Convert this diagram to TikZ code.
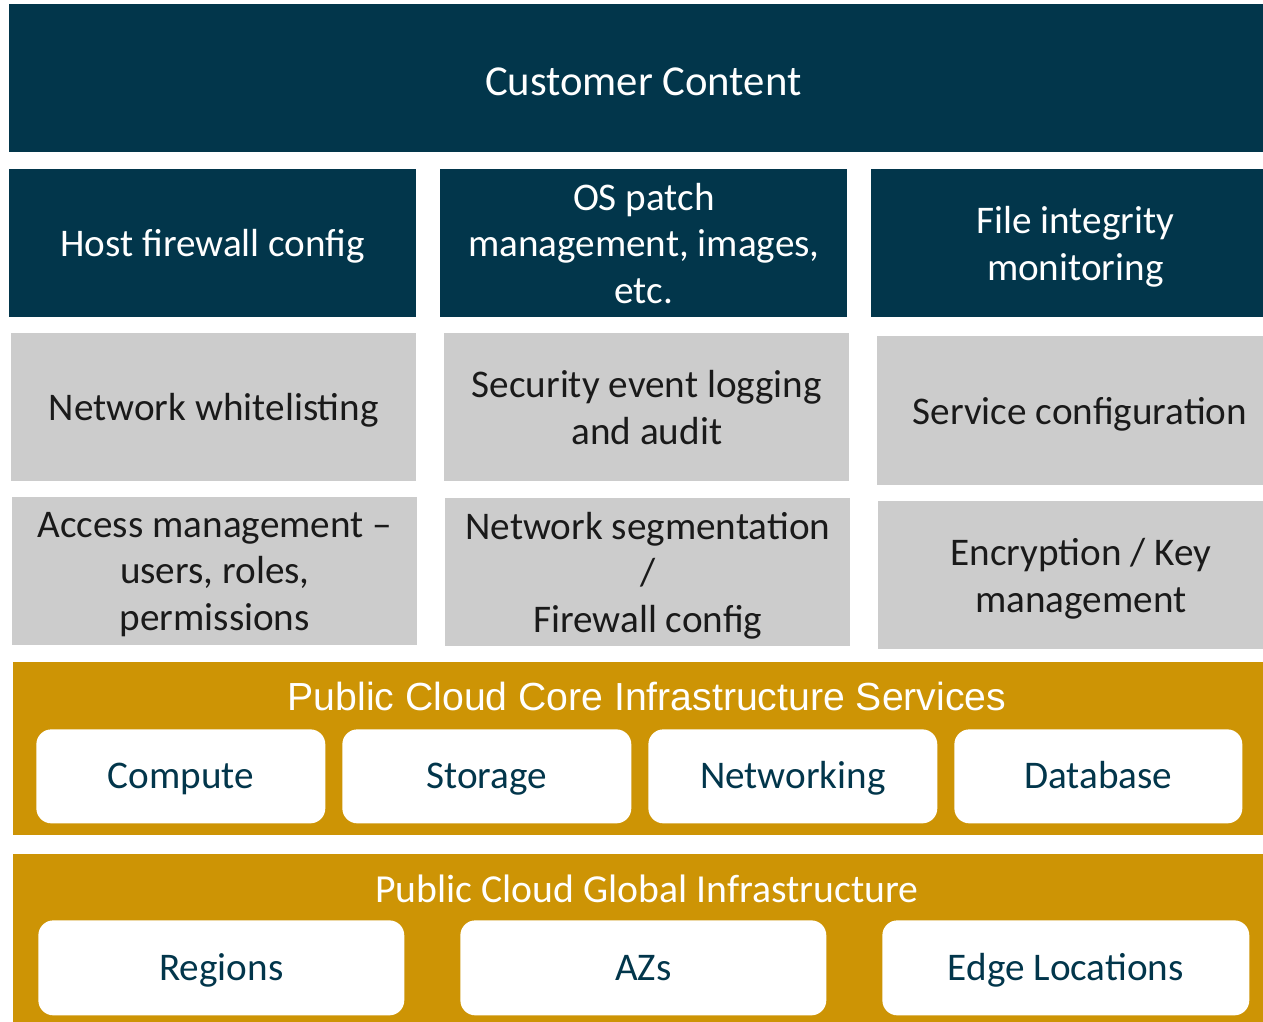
\documentclass[tikz,border=0pt]{standalone}
\usepackage{fontspec}
\setmainfont{Carlito}
\newfontfamily\arialfont{Liberation Sans}
\usetikzlibrary{positioning}

\definecolor{navy}{HTML}{02364B}
\definecolor{lightgray}{HTML}{CCCCCC}
\definecolor{gold}{HTML}{CD9405}
\definecolor{darktext}{HTML}{1A1A1A}

\begin{document}
\begin{tikzpicture}[
    x=0.02cm, y=-0.02cm,
    base/.style={anchor=north west, inner sep=0pt, align=center, text depth=0pt, font=\fontsize{22.3}{26.6}\selectfont},
    navybox/.style={base, fill=navy, text=white},
    graybox/.style={base, fill=lightgray, text=darktext},
    goldband/.style={anchor=north west, inner sep=0pt, fill=gold, minimum width=25cm, minimum height=#1},
    service/.style={base, fill=white, text=navy, rounded corners=0.3cm, minimum height=1.88cm, text height=20pt, text depth=5.8pt},
    bandtitle/.style={text=white, inner sep=0pt}
]
\useasboundingbox (0,0) rectangle (1263,1021);

% --- Customer responsibility ---
\node[navybox, minimum width=25.36cm, minimum height=2.96cm, text height=19pt, font=\fontsize{24.3}{29}\selectfont] (content) at (9,4) {Customer Content};

\node[navybox, minimum width=8.14cm, minimum height=2.96cm] (hostfw) at (9,169) {Host firewall config};
\node[navybox, minimum width=8.14cm, minimum height=2.96cm] (ospatch) at (440,169) {OS patch\\management, images,\\etc.};
\node[navybox, minimum width=8.16cm, minimum height=2.96cm] (fim) at (871,169) {File integrity\\monitoring};

\node[graybox, minimum width=8.10cm, minimum height=2.96cm] (netwl) at (11,333) {Network whitelisting};
\node[graybox, minimum width=8.10cm, minimum height=2.96cm] (seclog) at (444,333) {Security event logging\\and audit};
\node[graybox, minimum width=8.10cm, minimum height=2.98cm] (svcconf) at (877,336) {Service configuration};

\node[graybox, minimum width=8.10cm, minimum height=2.96cm] (access) at (12,497) {Access management --\\users, roles,\\permissions};
\node[graybox, minimum width=8.10cm, minimum height=2.96cm] (netseg) at (445,498) {Network segmentation\\/\\Firewall config};
\node[graybox, minimum width=8.10cm, minimum height=2.96cm] (enckey) at (878,501) {Encryption / Key\\management};

% --- Core infrastructure services ---
\node[goldband=3.46cm] (core) at (13,662) {};
\node[bandtitle, font=\arialfont\fontsize{22.3}{26}\selectfont] (coretitle) at (647,696) {Public Cloud Core Infrastructure Services};
\node[service, minimum width=5.78cm] (compute) at (36,729) {Compute};
\node[service, minimum width=5.78cm] (storage) at (342,729) {Storage};
\node[service, minimum width=5.78cm] (networking) at (648,729) {Networking};
\node[service, minimum width=5.76cm] (database) at (954,729) {Database};

% --- Global infrastructure ---
\node[goldband=3.4cm] (global) at (13,854) {};
\node[bandtitle, font=\fontsize{22.6}{26.6}\selectfont] (globaltitle) at (647,889) {Public Cloud Global Infrastructure};
\node[service, minimum width=7.32cm, minimum height=1.90cm] (regions) at (38,920) {Regions};
\node[service, minimum width=7.32cm, minimum height=1.90cm] (azs) at (460,920) {AZs};
\node[service, minimum width=7.34cm, minimum height=1.90cm] (edge) at (882,920) {Edge Locations};

\end{tikzpicture}
\end{document}
